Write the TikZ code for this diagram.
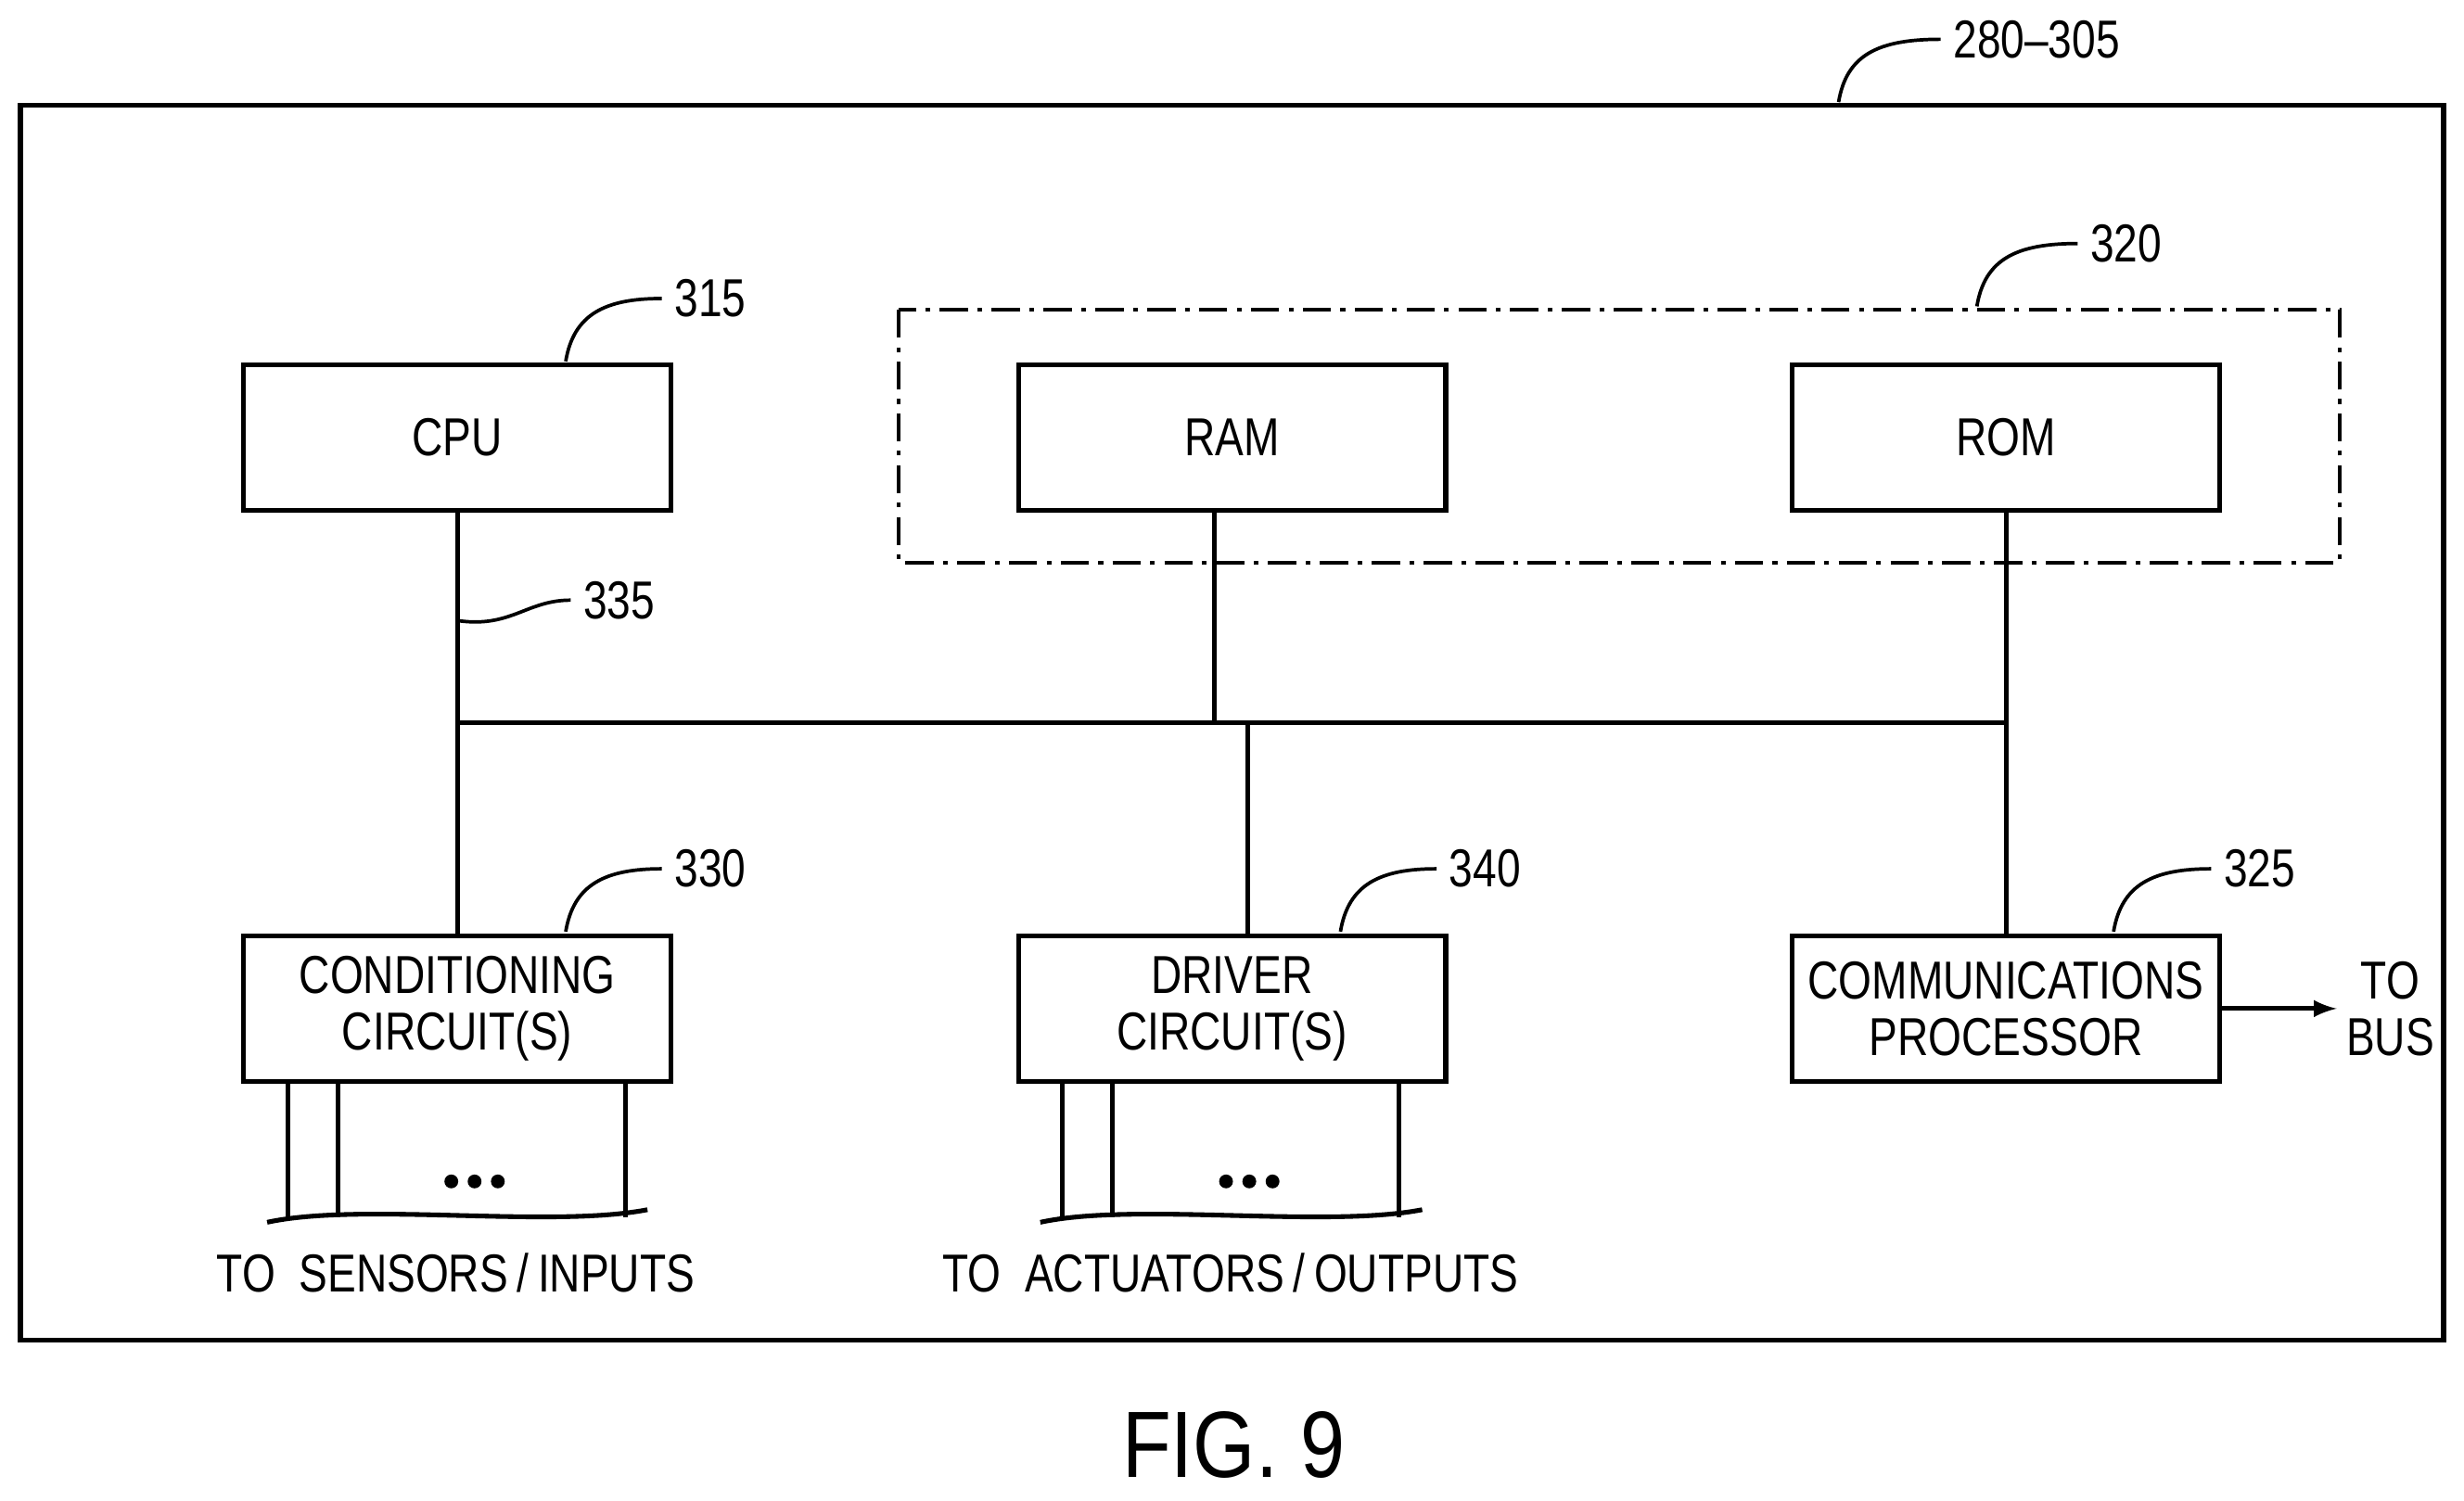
\documentclass[tikz,border=0pt]{standalone}
\usepackage{fontspec}
\setmainfont{Liberation Sans}
\begin{document}
\begin{tikzpicture}[x=0.5pt,y=-0.5pt,line width=1.5pt,
  box/.style={draw,minimum width=136pt,minimum height=46.5pt,align=center,inner sep=0pt},
  txt/.style={font=\fontsize{17}{18}\selectfont\addfontfeature{FakeStretch=0.8},align=center}]

  \useasboundingbox (0,0) rectangle (1568,955);
  \draw (13,67) rectangle (1555,853);

  % memory group
  \draw[dash pattern=on 9pt off 3pt on 1.5pt off 3pt,line width=1.1pt] (572,197) rectangle (1489,358);

  \node (CPU) at (291,278.5) [box,txt] {CPU};
  \node (RAM) at (784,278.5) [box,txt] {RAM};
  \node (ROM) at (1276.5,278.5) [box,txt] {ROM};
  \node (COND) at (291,642) [box,txt] {CONDITIONING\\CIRCUIT(S)};
  \node (DRV) at (784,642) [box,txt] {DRIVER\\CIRCUIT(S)};
  \node (COMM) at (1276.5,642) [box,txt] {COMMUNICATIONS\\PROCESSOR};

  % bus
  \coordinate (B1) at (291,460);
  \coordinate (B2) at (773,460);
  \coordinate (B3) at (794,460);
  \coordinate (B4) at (1276,460);
  \draw (B1) -- (B4);
  \draw (CPU.south) -- (COND.north);
  \draw (RAM.south -| B2) -- (B2);
  \draw (B3) -- (DRV.north -| B3);
  \draw (ROM.south) -- (COMM.north);

  \coordinate (BUS) at (1487,642);
  \draw[-latex] (COMM.east) -- (BUS);
  \node (TOBUS) at (1521,642) [txt] {TO\\BUS};

  % sensor and actuator lines
  \foreach \x in {183,215,398} \draw (\x,689) -- (\x,775);
  \foreach \x in {676,708,890} \draw (\x,689) -- (\x,775);
  \draw (170,778) .. controls (230,765) and (350,782) .. (412,770);
  \draw (662,778) .. controls (722,765) and (843,782) .. (905,770);
  \foreach \c/\n in {302/DOTS1,795/DOTS2}
    \node (\n) at (\c,752) {\foreach \d in {-1,0,1}{\tikz\fill (0,0) circle (2.2pt);\hspace{3pt}}};
  \node (SENS) at (290,810) [txt] {TO\ \ SENSORS\,/\,INPUTS};
  \node (ACT) at (783,810) [txt] {TO\ \ ACTUATORS\,/\,OUTPUTS};

  % reference numerals
  \node (N280) at (1296,25) [txt] {280--305};
  \draw[line width=1.1pt] (1170,65) .. controls (1175,35) and (1195,25) .. (N280.west);
  \node (N315) at (452,190) [txt] {315};
  \draw[line width=1.1pt] (360,230) .. controls (365,200) and (385,190) .. (N315.west);
  \node (N320) at (1353,155) [txt] {320};
  \draw[line width=1.1pt] (1258,195) .. controls (1263,165) and (1283,155) .. (N320.west);
  \node (N335) at (394,382) [txt] {335};
  \draw[line width=1.1pt] (291,395) .. controls (325,400) and (335,382) .. (N335.west);
  \node (N330) at (452,553) [txt] {330};
  \draw[line width=1.1pt] (360,593) .. controls (365,563) and (385,553) .. (N330.west);
  \node (N340) at (945,553) [txt] {340};
  \draw[line width=1.1pt] (853,593) .. controls (858,563) and (878,553) .. (N340.west);
  \node (N325) at (1438,553) [txt] {325};
  \draw[line width=1.1pt] (1345,593) .. controls (1350,563) and (1370,553) .. (N325.west);

  \node (FIG) at (785,920) [font=\fontsize{30}{32}\selectfont\addfontfeature{FakeStretch=0.85}] {FIG. 9};
\end{tikzpicture}
\end{document}
